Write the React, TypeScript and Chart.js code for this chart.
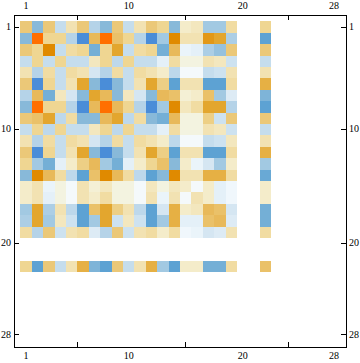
import React, { useEffect, useRef } from "react";
import { Chart, registerables } from "chart.js";

Chart.register(...registerables);

const tickLabels = [1, 10, 20, 28];
const columns = [1, 2, 3, 4, 5, 6, 7, 8, 9, 10, 11, 12, 13, 14, 15, 16, 17, 18, 19, 22];

const row1 = [5, -7, 5, -4, 3, 5, -5, -7, 5, -4, 3, 5, 4, -7, 2, 2.5, -6, -6, 3.5, 4];
const row2 = [-7, 9, 4, 4, -5, -10, 6, 9, 5.5, 4, -5, -10, -6, 8, 3, 3, 7.5, 7, -5.5, -9];
const row3 = [5, 4, 8, -4, 3.5, 4, -8, 4, 7, -4, 3.5, 4, -8, 6, -1.5, -2, -5.5, -6.5, 5, 5];
const row4 = [-4, 4, -4, 4, -4, -4, 2.5, 4, -4.5, 4, -4, -4, -2, 3.5, 1, 1, 3, 2.5, -3.5, -4];
const row5 = [3, -5, 3.5, -4, 3.5, 3, -3, -5, 3.5, -4, 3.5, 3, 2, -4.5, -0.5, -0.5, -4, -3.5, 3, 3];
const row6 = [5, -10, 4, -4, 3, 7, -7, -10, -7, -4, 3, 7, 4.5, -9, 3, 3, -9, -9, 3.5, 6.5];
const row7 = [-5, 6, -8, 2.5, -3, -7, 7, 6, -7, 2.5, -3, -7, 6, 5.5, 1.5, 2, 5.5, -6, -2.5, -7.5];
const row8 = [-7, 9, 4, 4, -5, -10, 6, 9, 6, 4, -5, -10, -6, 8, 2.5, 3.5, 7, 7, -5, -9];
const row9 = [5, 5.5, 7, -4.5, 3.5, -7, -7, 6, 7, -4.5, 3.5, -7, -8, 6, 1, 1, 4.5, -3.5, 5, 5];
const row10 = [-4, 4, -4.5, 4, -4, -4, 2.5, 4, -4.5, 4, -4, -4, -2, 3.5, 1, 1, 3, 2.5, -3.5, -4];
const row11 = [3, -5, 3.5, -4, 3.5, 3, -3, -5, 3.5, -4, 3.5, 3, 2, -4.5, -0.5, -0.5, -4, -3.5, 2.5, 3];
const row12 = [5, -10, 4, -4, 3, 7, -7, -10, -7, -4, 3, 7, 4.5, -9, 3, 3, -9, -9, 3.5, 6.5];
const row13 = [4, -6, -8, -2, 2, 4.5, 6, -6, -8, -2, 2, 4, 5.5, -7, 2, -1.5, -3, -6, 2, -6];
const row14 = [-7, 8, 6, 3.5, -4.5, -9, 5.5, 8, 6, 3.5, -4.5, -9, -7, 8, 3, 3, 6.5, 6.5, 3.5, -8.5];
const row15 = [2, 3, -1.5, 1, -0.5, 3, 1.5, 2.5, 1, 1, -0.5, 2.5, 1, 2.5, 2, -0.5, 2, -2, -1, 2];
const row16 = [2, 3, -2, 1, -0.5, 3, 2, 3.5, 1, 1, -0.5, 3, -1.5, 3, -0.5, 3, 2, -2, -1, 2];
const row17 = [-6, 7, -5.5, 3, -4.5, -9, 5.5, 7, 4.5, 3, -4.5, -9, -3, 6.5, 2, 2.5, 6, 5.5, -3, -8];
const row18 = [-5.5, 7, -6, 2.5, -3.5, -9, -6, 7, -3.5, 2.5, -3.5, -9, -6, 6.5, -2, -2, 5.5, 6, -2.5, -8];
const row19 = [3.5, -5, 5, -3.5, 3, 3.5, -2.5, -5, 5, -3.5, 3, 3.5, 2, 3.5, -1, -1.5, -3, -2.5, 3, 3.5];
const row22 = [4, -9, 5, -4, 3, 6.5, -7.5, -9, 5, -4, 3, 6.5, -6, -9, 2, 2, -8, -8, 3.5, 5.5];

const rowNumbers = [1, 2, 3, 4, 5, 6, 7, 8, 9, 10, 11, 12, 13, 14, 15, 16, 17, 18, 19, 22];
const rows = [row1, row2, row3, row4, row5, row6, row7, row8, row9, row10, row11, row12, row13, row14, row15, row16, row17, row18, row19, row22];

const paletteStops = [
  "#4a8dd8", "#5da2d3", "#74afd6", "#88b9d9", "#a2c9e2", "#b5d3e8", "#c5dded", "#d5e6f2", "#e4f0f8", "#f0f7fc",
  "#f8fafa",
  "#f3f3e0", "#f4ecca", "#f2e2b2", "#efd692", "#ebc878", "#e8b95a", "#e3a62e", "#e08a00", "#ff6f00",
];

function hexToRgb(h: string) {
  return [parseInt(h.slice(1, 3), 16), parseInt(h.slice(3, 5), 16), parseInt(h.slice(5, 7), 16)];
}

function colorFor(v: number) {
  const p = v + 10;
  const i = Math.min(Math.floor(p), paletteStops.length - 2);
  const f = p - i;
  const a = hexToRgb(paletteStops[i]);
  const b = hexToRgb(paletteStops[i + 1]);
  const c = a.map((x, k) => Math.round(x + (b[k] - x) * f));
  return `rgb(${c[0]},${c[1]},${c[2]})`;
}

const axisMin = -0.06;
const axisMax = 29.06;

function axis(position: string, size: number, reverse: boolean, padding: number) {
  return {
    type: "linear",
    position,
    reverse,
    min: axisMin,
    max: axisMax,
    offset: false,
    afterBuildTicks: (s: any) => {
      s.ticks = tickLabels.map((value) => ({ value }));
    },
    afterFit: (s: any) => {
      if (position === "left" || position === "right") s.width = size;
      else s.height = size;
    },
    grid: { display: true, drawOnChartArea: false, drawTicks: true, tickLength: -5, tickColor: "#000", tickWidth: 1 },
    border: { display: true, color: "#000", width: 1 },
    ticks: {
      autoSkip: false,
      maxRotation: 0,
      padding,
      color: "#000",
      font: { family: "'Liberation Serif'", size: 10 },
      callback: (v: any) => String(v),
    },
  };
}

const snapPlugin = {
  id: "snap",
  afterDatasetsUpdate(chart: any) {
    chart.data.datasets.forEach((_: any, i: number) => {
      chart.getDatasetMeta(i).data.forEach((el: any) => {
        const l = Math.round(el.x - el.width / 2);
        const r = Math.round(el.x + el.width / 2);
        el.x = (l + r) / 2;
        el.width = r - l;
        el.y = Math.round(el.y);
        el.base = Math.round(el.base);
      });
    });
  },
};

const whitePlugin = {
  id: "white",
  beforeDraw(chart: any) {
    const { ctx, width, height } = chart;
    ctx.save();
    ctx.fillStyle = "#fff";
    ctx.fillRect(0, 0, width, height);
    ctx.restore();
  },
};

export default function App() {
  const ref = useRef<HTMLCanvasElement>(null);
  useEffect(() => {
    const canvas = ref.current!;
    canvas.getContext("2d", { alpha: false });
    const chart = new Chart(canvas, {
      type: "bar",
      data: {
        datasets: rows.map((values, r) => ({
          label: String(rowNumbers[r]),
          data: values.map((_, c) => ({ x: columns[c], y: [rowNumbers[r] - 0.5, rowNumbers[r] + 0.5] })),
          backgroundColor: values.map(colorFor),
          borderWidth: 0,
          inflateAmount: 0,
          barPercentage: 1,
          categoryPercentage: 1,
          grouped: false,
          xAxisID: "x",
          yAxisID: "y",
        })),
      },
      options: {
        responsive: false,
        animation: false,
        devicePixelRatio: 1,
        layout: { padding: 0 },
        plugins: { legend: { display: false }, tooltip: { enabled: false }, title: { display: false } },
        scales: {
          x: axis("bottom", 16, false, 8),
          x2: axis("top", 15, false, 8),
          y: axis("left", 14, true, 8),
          y2: axis("right", 14, true, 8),
        },
      } as any,
      plugins: [whitePlugin, snapPlugin],
    } as any);
    return () => chart.destroy();
  }, []);
  return (
    <canvas
      ref={ref}
      width={360}
      height={363}
      style={{ position: "fixed", left: 0, top: 0, width: 360, height: 363, display: "block" }}
    />
  );
}
